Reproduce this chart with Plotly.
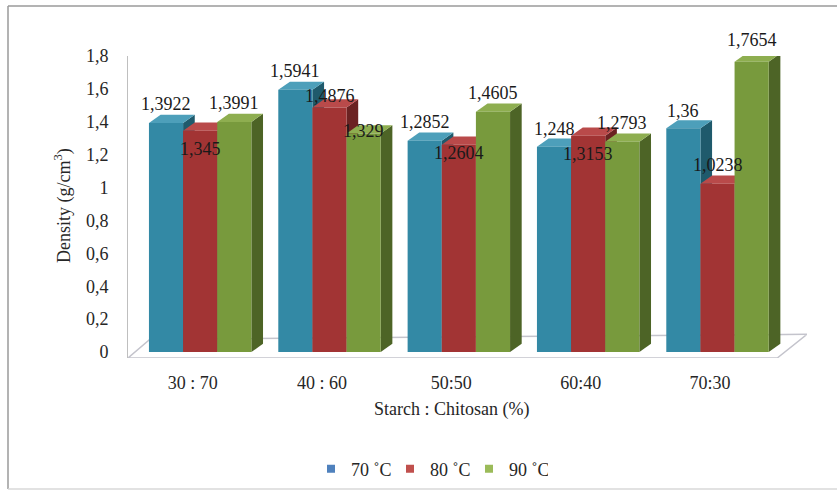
import plotly.graph_objects as go

categories = ["30 : 70", "40 : 60", "50:50", "60:40", "70:30"]
series_names = ["70 ˚C", "80 ˚C", "90 ˚C"]
density_70 = [1.3922, 1.5941, 1.2852, 1.248, 1.36]
density_80 = [1.345, 1.4876, 1.2604, 1.3153, 1.0238]
density_90 = [1.3991, 1.329, 1.4605, 1.2793, 1.7654]
y_ticks = [0, 0.2, 0.4, 0.6, 0.8, 1.0, 1.2, 1.4, 1.6, 1.8]

series_values = [density_70, density_80, density_90]

# styling
FONT = "'Liberation Serif', 'Times New Roman', serif"
front_cols = ["#3389a5", "#a23434", "#789a3d"]
side_cols = ["#1f5a6c", "#6b2222", "#4d6426"]
top_cols = ["#4d9fba", "#b94a4a", "#8eae50"]
legend_cols = ["#4f81bd", "#c0504d", "#9bbb59"]
offsets = [-0.338, -0.074, 0.19]
bar_w = 0.264
dx, dy = 0.09, 0.05  # pseudo-3D depth (x units, y units)
# label vertical shifts in pixels (placement only)
label_shift = [
    [19, 19, 19, 18, 17],
    [-18, 11, -8, -18, 19],
    [19, 2, 19, 19, 22],
]

W, H = 837, 495
ML, MR, MT, MB = 128, 30, 56, 137
PW, PH = W - ML - MR, H - MT - MB


def px_x(px):
    return (px - ML) / PW


def px_y(py):
    return (H - MB - py) / PH


x_idx = list(range(len(categories)))
fig = go.Figure()

for j, vals in enumerate(series_values):
    fig.add_trace(go.Bar(
        x=x_idx, y=vals, name=series_names[j],
        offset=offsets[j], width=bar_w,
        marker=dict(color=front_cols[j], line=dict(width=0)),
        showlegend=False, hoverinfo="y",
    ))

# legend entries
for j in range(3):
    fig.add_trace(go.Scatter(
        x=[None], y=[None], mode="markers", name=series_names[j],
        marker=dict(symbol="square", size=8, color=legend_cols[j]),
        showlegend=True,
    ))

shapes = []
# floor
shapes.append(dict(
    type="path", xref="x", yref="y", layer="below",
    path="M -0.5,-0.036 L 4.52,-0.036 L 4.75,0.108 L -0.33,0.078 Z",
    fillcolor="white", line=dict(color="#c4c4cc", width=1.5),
))
# side faces
for j, vals in enumerate(series_values):
    for i, v in enumerate(vals):
        x1 = i + offsets[j] + bar_w
        shapes.append(dict(
            type="path", xref="x", yref="y", layer="below",
            path=f"M {x1},0 L {x1+dx},{dy} L {x1+dx},{v+dy} L {x1},{v} Z",
            fillcolor=side_cols[j], line=dict(width=0),
        ))
# top faces
for j, vals in enumerate(series_values):
    for i, v in enumerate(vals):
        x0 = i + offsets[j]
        x1 = x0 + bar_w
        shapes.append(dict(
            type="path", xref="x", yref="y", layer="below",
            path=f"M {x0},{v} L {x1},{v} L {x1+dx},{v+dy} L {x0+dx},{v+dy} Z",
            fillcolor=top_cols[j], line=dict(width=0),
        ))
# outer frame (top + left, faint bottom), open on the right like the reference
fx0, fx1, fy0, fy1 = px_x(8), px_x(837), px_y(489), px_y(6)
shapes.append(dict(
    type="line", xref="paper", yref="paper", x0=fx0, x1=fx1, y0=fy1, y1=fy1,
    line=dict(color="#9a9a9a", width=1.5), layer="below",
))
shapes.append(dict(
    type="line", xref="paper", yref="paper", x0=fx0, x1=fx0, y0=fy0, y1=fy1,
    line=dict(color="#9a9a9a", width=1.5), layer="below",
))
shapes.append(dict(
    type="line", xref="paper", yref="paper", x0=fx0, x1=fx1, y0=fy0, y1=fy0,
    line=dict(color="#d8d8d8", width=1.5), layer="below",
))

annotations = []
for j, vals in enumerate(series_values):
    for i, v in enumerate(vals):
        annotations.append(dict(
            x=i + offsets[j] + bar_w / 2, y=v, xref="x", yref="y",
            text=str(v).replace(".", ","), showarrow=False,
            xanchor="center", yanchor="middle", yshift=label_shift[j][i],
            font=dict(family=FONT, size=18, color="#1a1a1a"),
        ))
annotations.append(dict(
    x=2, y=px_y(409), xref="x", yref="paper", text="Starch : Chitosan (%)",
    showarrow=False, xanchor="center", yanchor="middle",
    font=dict(family=FONT, size=18, color="#262626"),
))
annotations.append(dict(
    x=px_x(63), y=px_y(206), xref="paper", yref="paper",
    text="Density (g/cm<sup>3</sup>)", textangle=-90, showarrow=False,
    xanchor="center", yanchor="middle",
    font=dict(family=FONT, size=18, color="#262626"),
))

fig.update_layout(
    template="none",
    width=W, height=H,
    margin=dict(l=ML, r=MR, t=MT, b=MB, autoexpand=False),
    paper_bgcolor="white", plot_bgcolor="white",
    separators=", ",
    barmode="overlay",
    font=dict(family=FONT, size=18, color="#262626"),
    shapes=shapes, annotations=annotations,
    legend=dict(orientation="h", x=px_x(311), xanchor="left", y=px_y(469), yanchor="middle",
                font=dict(family=FONT, size=18, color="#262626"),
                itemwidth=30, entrywidth=34, entrywidthmode="pixels",
                tracegroupgap=0, bgcolor="rgba(0,0,0,0)"),
    xaxis=dict(range=[-0.5, 4.75], tickmode="array", tickvals=x_idx, ticktext=categories,
               showgrid=False, zeroline=False, showline=False, ticks="", automargin=False,
               ticklabelstandoff=12, tickfont=dict(family=FONT, size=18, color="#262626")),
    yaxis=dict(range=[-0.036, 1.8], tickmode="array", tickvals=y_ticks,
               showgrid=False, zeroline=False, showline=True, linecolor="#bfbfbf", linewidth=1,
               ticks="", ticklabelstandoff=15, automargin=False,
               tickfont=dict(family=FONT, size=18, color="#262626")),
    showlegend=True,
)

fig.write_html(
    "out.html",
    config={"displayModeBar": False},
    post_script="document.body.style.margin='0';document.body.style.overflow='hidden';",
)
